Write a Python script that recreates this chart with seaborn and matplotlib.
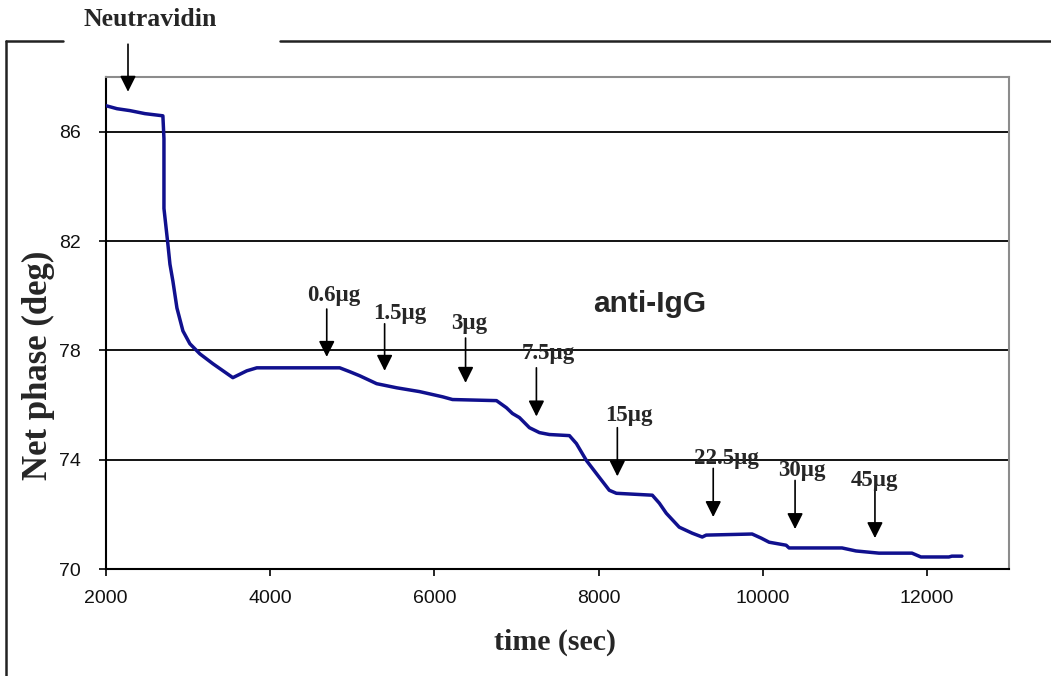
import matplotlib
matplotlib.use("Agg")
import matplotlib.pyplot as plt
from matplotlib.lines import Line2D
import seaborn as sns
import pandas as pd

# ---- data ----
time_sec = [2000, 2134, 2292, 2474, 2693, 2706, 2706, 2754, 2779, 2815, 2864, 2937, 3022,
            3144, 3302, 3545, 3715, 3837, 4847, 4968, 5090, 5297, 5540, 5820, 6100, 6221,
            6757, 6878, 6951, 7036, 7158, 7280, 7401, 7645, 7730, 7852, 8010, 8131, 8217,
            8655, 8740, 8825, 8983, 9141, 9263, 9311, 9871, 9981, 10078, 10285, 10321,
            10966, 11136, 11416, 11818, 11927, 12268, 12304, 12426]
net_phase = [86.95, 86.84, 86.77, 86.66, 86.58, 85.74, 83.19, 81.88, 81.15, 80.53, 79.55,
             78.71, 78.24, 77.87, 77.51, 77.00, 77.25, 77.36, 77.36, 77.22, 77.07, 76.78,
             76.63, 76.49, 76.30, 76.20, 76.16, 75.90, 75.69, 75.54, 75.17, 74.99, 74.92,
             74.88, 74.59, 73.97, 73.35, 72.88, 72.77, 72.70, 72.41, 72.04, 71.53, 71.31,
             71.17, 71.24, 71.28, 71.13, 70.98, 70.87, 70.77, 70.77, 70.66, 70.58, 70.58,
             70.44, 70.44, 70.47, 70.47]

dose_labels = ["0.6µg", "1.5µg", "3µg", "7.5µg", "15µg", "22.5µg", "30µg", "45µg"]
dose_time = [4689, 5394, 6380, 7243, 8229, 9397, 10394, 11367]
arrow_tip = [77.76, 77.25, 76.81, 75.58, 73.39, 71.90, 71.46, 71.13]
arrow_tail = [79.51, 78.97, 78.45, 77.36, 75.17, 73.68, 73.24, 72.88]
label_time = [4774, 5577, 6428, 7389, 8375, 9560, 10473, 11367]
label_phase = [79.99, 79.33, 79.00, 77.87, 75.61, 74.05, 73.61, 73.24]

neutravidin_time = 2268
neutravidin_tip = 87.46
neutravidin_tail = 89.2

x_ticks = [2000, 4000, 6000, 8000, 10000, 12000]
y_ticks = [70, 74, 78, 82, 86]

# ---- style ----
sns.set_style("ticks")
plt.rcParams["font.family"] = ["Liberation Sans", "DejaVu Sans"]

W, H = 1051, 676
fig = plt.figure(figsize=(W / 100, H / 100), dpi=100)
ax = fig.add_axes([106 / W, 1 - 569 / H, (1009 - 106) / W, (569 - 77) / H])

df = pd.DataFrame({"time": time_sec, "phase": net_phase})
sns.lineplot(data=df, x="time", y="phase", ax=ax, color="#10108e", lw=2.5,
             estimator=None, sort=False, zorder=3)

ax.set_xlim(2000, 13000)
ax.set_ylim(70, 88)
ax.set_xticks(x_ticks)
ax.set_yticks(y_ticks)
ax.set_xticklabels([str(v) for v in x_ticks])
ax.set_yticklabels([str(v) for v in y_ticks])
ax.tick_params(axis="both", direction="out", length=5, width=1.2, color="black",
               labelsize=14, labelcolor="#111111")
ax.tick_params(axis="y", pad=13)
ax.tick_params(axis="x", pad=10)

for y in y_ticks[1:]:
    ax.axhline(y, color="black", lw=1.3, zorder=1)

for s in ["left", "bottom"]:
    ax.spines[s].set_color("black")
    ax.spines[s].set_linewidth(1.5)
for s in ["top", "right"]:
    ax.spines[s].set_color("#8c8c8c")
    ax.spines[s].set_linewidth(1.5)

serif_bold = dict(family=["Liberation Serif", "DejaVu Serif"], weight="bold")
ax.set_xlabel("time (sec)", fontsize=21.5, **serif_bold)
ax.set_ylabel("Net phase (deg)", fontsize=25, **serif_bold)
ax.xaxis.set_label_coords(0.497, -0.122)
ax.yaxis.set_label_coords(-0.057, 0.415)

arrow_kw = dict(arrowstyle="-|>,head_length=0.6,head_width=0.3", color="black",
                lw=1.2, mutation_scale=16, shrinkA=0, shrinkB=0)
for lab, t, tip, tail, lt, lp in zip(dose_labels, dose_time, arrow_tip, arrow_tail,
                                     label_time, label_phase):
    ax.annotate("", xy=(t, tip), xytext=(t, tail), arrowprops=arrow_kw, zorder=4)
    ax.text(lt, lp, lab, ha="center", va="center", fontsize=16.5, zorder=5, **serif_bold)

ax.annotate("", xy=(neutravidin_time, neutravidin_tip),
            xytext=(neutravidin_time, neutravidin_tail),
            arrowprops=arrow_kw, annotation_clip=False, zorder=4)

ax.text(8618, 79.69, "anti-IgG", ha="center", va="center", fontsize=21.5,
        fontweight="bold", family=["Liberation Sans", "DejaVu Sans"])

fig.text(150 / W, 1 - 19 / H, "Neutravidin", ha="center", va="center",
         fontsize=18.5, **serif_bold)

# outer frame lines
ytop = 1 - 41 / H
xl = 6 / W
fig.add_artist(Line2D([xl, 63 / W], [ytop, ytop], color="#222222", lw=1.8))
fig.add_artist(Line2D([280 / W, 1.0], [ytop, ytop], color="#222222", lw=1.8))
fig.add_artist(Line2D([xl, xl], [0, ytop], color="#222222", lw=1.8))

fig.savefig("out.png", dpi=100)
